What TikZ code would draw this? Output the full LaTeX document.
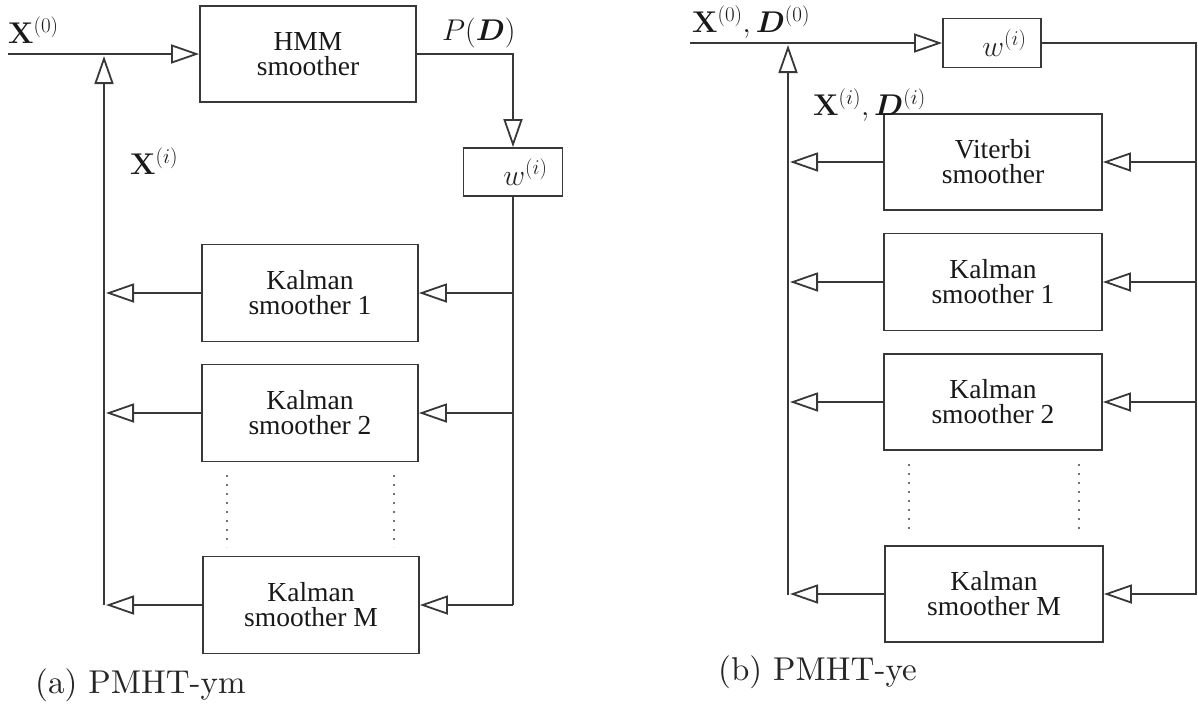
\RequirePackage{fix-cm}
\documentclass[tikz,border=0pt]{standalone}
\usepackage{bm}
\usepackage[no-math]{fontspec}
\newfontfamily\boxfont{Liberation Serif}
\newfontfamily\capfont{lmroman10-regular.otf}
\usetikzlibrary{arrows.meta}
\begin{document}
\begin{tikzpicture}[x=1pt,y=-1pt,
  line/.style={draw=black!78, line width=1.8pt},
  opentip/.style={-{Triangle[open,length=28pt,width=19pt]}},
  block/.style={line, rectangle, inner sep=0pt, align=center,
    font=\boxfont\fontsize{27.5}{25}\selectfont, text=black!90},
  wbox/.style={line, rectangle, inner sep=0pt,
    font=\fontsize{30}{36}\selectfont, text=black!85},
  lbl/.style={anchor=base west, inner sep=0pt,
    font=\fontsize{30}{36}\selectfont, text=black!90},
  captiontext/.style={anchor=base west, inner sep=0pt,
    font=\capfont\fontsize{33}{40}\selectfont, text=black!85},
  dots/.style={draw=black!55, line width=1.7pt, dash pattern=on 1.7pt off 7.3pt}
]
\useasboundingbox (0,0) rectangle (1198,707);

% ---------- (a) PMHT-ym ----------
\node[block, minimum width=216pt, minimum height=96pt] (hmm) at (308,54) {HMM\\smoother};
\node[wbox, minimum width=99pt, minimum height=48pt] (wA) at (513,172) {\hspace*{25pt}$w^{(i)}$};
\node[block, minimum width=216pt, minimum height=97pt] (ka1) at (310,293) {Kalman\\smoother 1};
\node[block, minimum width=216pt, minimum height=97pt] (ka2) at (310,413) {Kalman\\smoother 2};
\node[block, minimum width=216pt, minimum height=97pt] (kaM) at (311,605) {Kalman\\smoother M};

\coordinate (inA) at (8,54);
\coordinate (fbA) at (104,605);
\coordinate (jA) at (104,56);
\coordinate (rA) at (513,605);

\draw[line, opentip] (inA) -- (hmm.west);
\draw[line, opentip] (fbA) -- (jA);
\draw[line, opentip] (hmm.east) -| (wA.north);
\draw[line] (wA.south) -- (rA);
\foreach \k in {ka1,ka2,kaM}{
  \draw[line, opentip] (rA |- \k.east) -- (\k.east);
  \draw[line, opentip] (\k.west) -- ([xshift=2pt]fbA |- \k.west);
}
\draw[dots] (227,475) -- (227,547);
\draw[dots] (394,475) -- (394,547);

\node[lbl] (x0A) at (8,43) {$\mathbf{X}^{(0)}$};
\node[lbl] (xiA) at (130,174) {$\mathbf{X}^{(i)}$};
\node[lbl] (pdA) at (442,40) {$P(\bm{D})$};
\node[captiontext] (capA) at (35,693) {(a) PMHT-ym};

% ---------- (b) PMHT-ye ----------
\node[wbox, minimum width=98pt, minimum height=49pt] (wB) at (992,43) {\hspace*{25pt}$w^{(i)}$};
\node[block, minimum width=218pt, minimum height=96pt] (vit) at (993,162) {Viterbi\\smoother};
\node[block, minimum width=218pt, minimum height=97pt] (kb1) at (993,282) {Kalman\\smoother 1};
\node[block, minimum width=218pt, minimum height=96pt] (kb2) at (993,402) {Kalman\\smoother 2};
\node[block, minimum width=218pt, minimum height=96pt] (kbM) at (994,594) {Kalman\\smoother M};

\coordinate (inB) at (690,43);
\coordinate (fbB) at (788,595);
\coordinate (jB) at (788,45);
\coordinate (rB) at (1196,595);

\draw[line, opentip] (inB) -- (wB.west);
\draw[line, opentip] (fbB) -- (jB);
\draw[line] (wB.east) -| (rB);
\foreach \k in {vit,kb1,kb2,kbM}{
  \draw[line, opentip] (rB |- \k.east) -- (\k.east);
  \draw[line, opentip] (\k.west) -- ([xshift=2pt]fbB |- \k.west);
}
\draw[dots] (909,464) -- (909,535);
\draw[dots] (1079,464) -- (1079,535);

\node[lbl] (x0B) at (692,32) {$\mathbf{X}^{(0)}, \bm{D}^{(0)}$};
\node[lbl] (xiB) at (813,115) {$\mathbf{X}^{(i)}, \bm{D}^{(i)}$};
\node[captiontext] (capB) at (718,680) {(b) PMHT-ye};
\end{tikzpicture}
\end{document}
